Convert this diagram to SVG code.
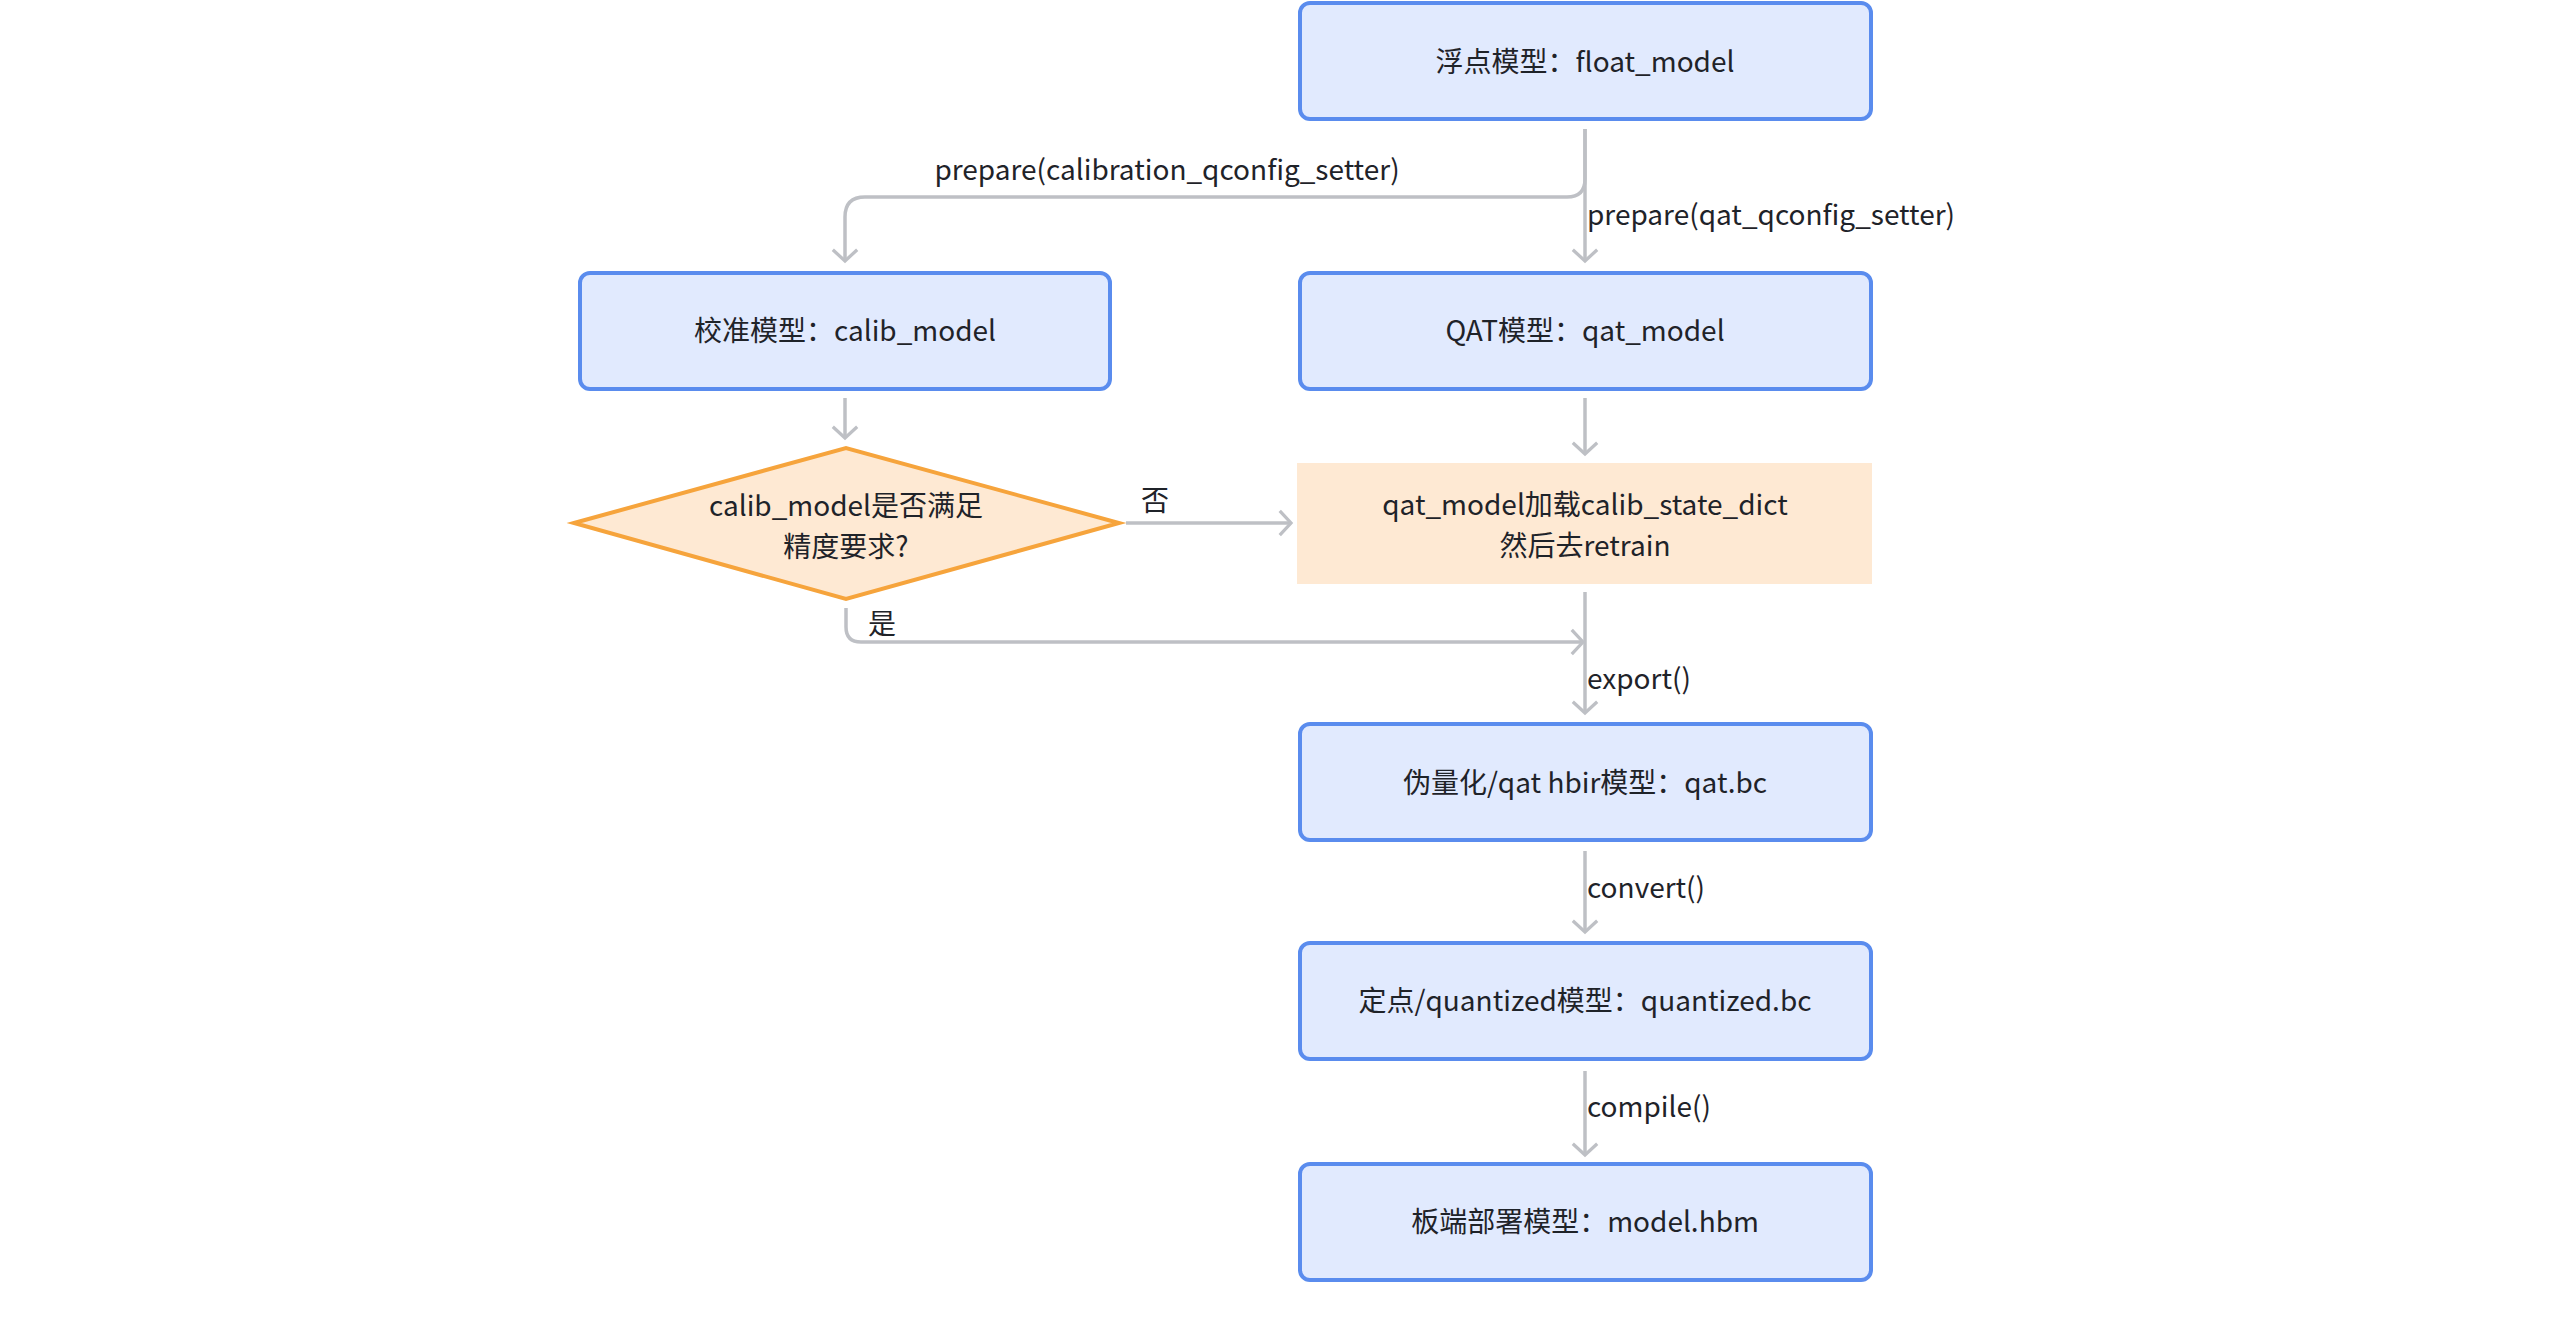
<svg xmlns="http://www.w3.org/2000/svg" width="2560" height="1320" viewBox="0 0 2560 1320">
<defs>
<style>
.box{fill:#E1EAFE;stroke:#5A8CEE;stroke-width:4}
.dia{fill:#FEE9D3;stroke:#F6A43C;stroke-width:4;stroke-linejoin:miter}
.warm{fill:#FEE9D3}
.t{font-family:"Noto Sans CJK SC","Noto Sans",sans-serif;font-size:28px;fill:#1F2329}
.c{text-anchor:middle;dominant-baseline:central}
.l{dominant-baseline:central}
.edge{fill:none;stroke:#BEC0C5;stroke-width:3.5}
</style>
<marker id="arr" markerUnits="userSpaceOnUse" markerWidth="30" markerHeight="30" viewBox="-16 -16 32 32" refX="0" refY="0" orient="auto" overflow="visible">
<path d="M-12,-13 L0,0 L-12,13" fill="none" stroke="#BEC0C5" stroke-width="3.5"/>
</marker>
</defs>
<rect width="2560" height="1320" fill="#FFFFFF"/>
<g id="connectors">
<path class="edge" d="M1585,129 V179 Q1585,197 1567,197 H865 Q845,197 845,217 V261" marker-end="url(#arr)"/>
<path class="edge" d="M1585,129 V261" marker-end="url(#arr)"/>
<path class="edge" d="M845,398 V438" marker-end="url(#arr)"/>
<path class="edge" d="M1585,398 V454" marker-end="url(#arr)"/>
<path class="edge" d="M1126,523 H1291" marker-end="url(#arr)"/>
<path class="edge" d="M846,608 V627 Q846,642 861,642 H1583" marker-end="url(#arr)"/>
<path class="edge" d="M1585,592 V713" marker-end="url(#arr)"/>
<path class="edge" d="M1585,851 V932" marker-end="url(#arr)"/>
<path class="edge" d="M1585,1071 V1155" marker-end="url(#arr)"/>
<text class="t c" x="1167" y="168">prepare(calibration_qconfig_setter)</text>
<text class="t l" x="1587" y="213">prepare(qat_qconfig_setter)</text>
<text class="t c" x="1155" y="499">否</text>
<text class="t l" x="868" y="622">是</text>
<text class="t l" x="1587" y="677">export()</text>
<text class="t l" x="1587" y="886">convert()</text>
<text class="t l" x="1587" y="1105">compile()</text>
</g>
<g id="float_model">
<rect class="box" x="1300" y="3" width="571" height="116" rx="10"/>
<text class="t c" x="1585" y="60">浮点模型：float_model</text>
</g>
<g id="calib_model">
<rect class="box" x="580" y="273" width="530" height="116" rx="10"/>
<text class="t c" x="845" y="329">校准模型：calib_model</text>
</g>
<g id="qat_model">
<rect class="box" x="1300" y="273" width="571" height="116" rx="10"/>
<text class="t c" x="1585" y="329">QAT模型：qat_model</text>
</g>
<g id="decision">
<polygon class="dia" points="574,523 846,448 1119,523 846,599"/>
<text class="t c" x="846" y="504">calib_model是否满足</text>
<text class="t c" x="846" y="545">精度要求?</text>
</g>
<g id="retrain">
<rect class="warm" x="1297" y="463" width="575" height="121"/>
<text class="t c" x="1585" y="503">qat_model加载calib_state_dict</text>
<text class="t c" x="1585" y="544">然后去retrain</text>
</g>
<g id="qat_bc">
<rect class="box" x="1300" y="724" width="571" height="116" rx="10"/>
<text class="t c" x="1585" y="781">伪量化/qat hbir模型：qat.bc</text>
</g>
<g id="quantized_bc">
<rect class="box" x="1300" y="943" width="571" height="116" rx="10"/>
<text class="t c" x="1585" y="999">定点/quantized模型：quantized.bc</text>
</g>
<g id="model_hbm">
<rect class="box" x="1300" y="1164" width="571" height="116" rx="10"/>
<text class="t c" x="1585" y="1220">板端部署模型：model.hbm</text>
</g>
</svg>
